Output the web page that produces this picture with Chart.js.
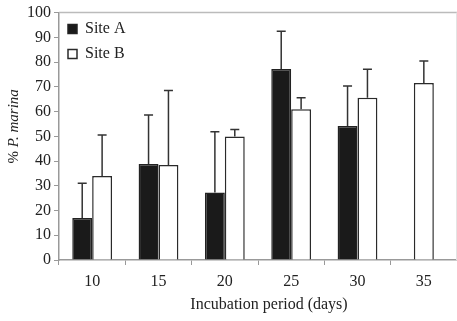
<!DOCTYPE html>
<html>
<head>
<meta charset="utf-8">
<script src="https://cdn.jsdelivr.net/npm/chart.js@4"></script>
<style>
  html, body { margin: 0; padding: 0; background: #fff; }
  #wrap { width: 457px; height: 321px; position: relative; }
</style>
</head>
<body>
<div id="wrap"><canvas id="c" width="457" height="321"></canvas></div>
<script>
const categories = ['10', '15', '20', '25', '30', '35'];
const siteA = [17, 38.8, 27.3, 77.2, 54.2, null];
const siteAErrTop = [31, 58.6, 51.8, 92.5, 70.3, null];
const siteB = [34, 38.4, 49.9, 60.9, 65.6, 71.5];
const siteBErrTop = [50.5, 68.5, 52.7, 65.6, 77.1, 80.4];
const yTicks = [0, 10, 20, 30, 40, 50, 60, 70, 80, 90, 100];
const xTitle = 'Incubation period (days)';
const yTitlePlain = '% ';
const yTitleItalic = 'P. marina';

const serif = '"Liberation Serif", "DejaVu Serif", serif';
const errTops = [siteAErrTop, siteBErrTop];

const errorBars = {
  id: 'errorBars',
  afterDatasetsDraw(chart) {
    const ctx = chart.ctx;
    const y = chart.scales.y;
    ctx.save();
    ctx.strokeStyle = '#333';
    ctx.lineWidth = 1.5;
    chart.data.datasets.forEach((ds, di) => {
      const meta = chart.getDatasetMeta(di);
      meta.data.forEach((bar, i) => {
        const v = ds.data[i];
        const top = errTops[di][i];
        if (v == null || top == null) return;
        const y0 = y.getPixelForValue(v);
        const y1 = y.getPixelForValue(top);
        ctx.beginPath();
        ctx.moveTo(bar.x, y0);
        ctx.lineTo(bar.x, y1);
        ctx.moveTo(bar.x - 4.5, y1);
        ctx.lineTo(bar.x + 4.5, y1);
        ctx.stroke();
      });
    });
    ctx.restore();
  }
};

const frameAndTitles = {
  id: 'frameAndTitles',
  beforeDatasetsDraw(chart) {
    const ctx = chart.ctx;
    const a = chart.chartArea;
    ctx.save();
    ctx.strokeStyle = '#bbb';
    ctx.lineWidth = 1.5;
    ctx.beginPath();
    ctx.moveTo(a.left, a.top);
    ctx.lineTo(a.right, a.top);
    ctx.stroke();
    ctx.strokeStyle = '#e4e4e4';
    ctx.lineWidth = 1;
    ctx.beginPath();
    ctx.moveTo(a.right - 0.5, a.top);
    ctx.lineTo(a.right - 0.5, a.bottom);
    ctx.stroke();
    ctx.restore();
  },
  afterDraw(chart) {
    const ctx = chart.ctx;
    const a = chart.chartArea;
    ctx.save();
    ctx.fillStyle = '#222';
    ctx.textBaseline = 'middle';
    // x title
    ctx.font = '16px ' + serif;
    ctx.textAlign = 'center';
    ctx.fillText(xTitle, (a.left + a.right) / 2 + 11, 305);
    // y title
    ctx.translate(14, (a.top + a.bottom) / 2 - 10);
    ctx.rotate(-Math.PI / 2);
    ctx.font = '15px ' + serif;
    const w1 = ctx.measureText(yTitlePlain).width;
    ctx.font = 'italic 15px ' + serif;
    const w2 = ctx.measureText(yTitleItalic).width;
    let x = -(w1 + w2) / 2;
    ctx.textAlign = 'left';
    ctx.font = '15px ' + serif;
    ctx.fillText(yTitlePlain, x, 0);
    ctx.font = 'italic 15px ' + serif;
    ctx.fillText(yTitleItalic, x + w1, 0);
    ctx.restore();
  }
};

new Chart(document.getElementById('c'), {
  type: 'bar',
  data: {
    labels: categories,
    datasets: [
      { label: 'Site A', data: siteA, backgroundColor: '#1a1a1a', borderColor: '#222', borderWidth: 1.5 },
      { label: 'Site B', data: siteB, backgroundColor: '#ffffff', borderColor: '#2a2a2a', borderWidth: 1.5 }
    ]
  },
  plugins: [frameAndTitles, errorBars],
  options: {
    responsive: false,
    animation: false,
    devicePixelRatio: 1,
    layout: { padding: { top: 11, right: 0, left: 0, bottom: 0 } },
    datasets: { bar: { categoryPercentage: 0.6, barPercentage: 1.0, skipNull: true, maxBarThickness: 20 } },
    plugins: {
      legend: {
        position: 'chartArea',
        align: 'start',
        title: { display: true, text: ' ', padding: 0, font: { size: 10 } },
        labels: {
          boxWidth: 9, boxHeight: 9, padding: 9,
          color: '#222',
          font: { family: serif, size: 16 }
        }
      },
      tooltip: { enabled: false }
    },
    scales: {
      x: {
        grid: { display: true, drawOnChartArea: false, drawTicks: true, tickLength: 5, color: '#999', offset: true },
        border: { display: true, color: '#999', width: 1.5 },
        ticks: { color: '#222', padding: 7, font: { family: serif, size: 16 } },
        afterFit(s) { s.height = 61; }
      },
      y: {
        min: 0, max: 100,
        afterBuildTicks(s) { s.ticks = yTicks.map(v => ({ value: v })); },
        grid: { display: true, drawOnChartArea: false, drawTicks: true, tickLength: 5, color: '#999' },
        border: { display: true, color: '#999', width: 1.5 },
        ticks: { color: '#222', padding: 3, font: { family: serif, size: 16 } },
        afterFit(s) { s.width = 59; }
      }
    }
  }
});
</script>
</body>
</html>
